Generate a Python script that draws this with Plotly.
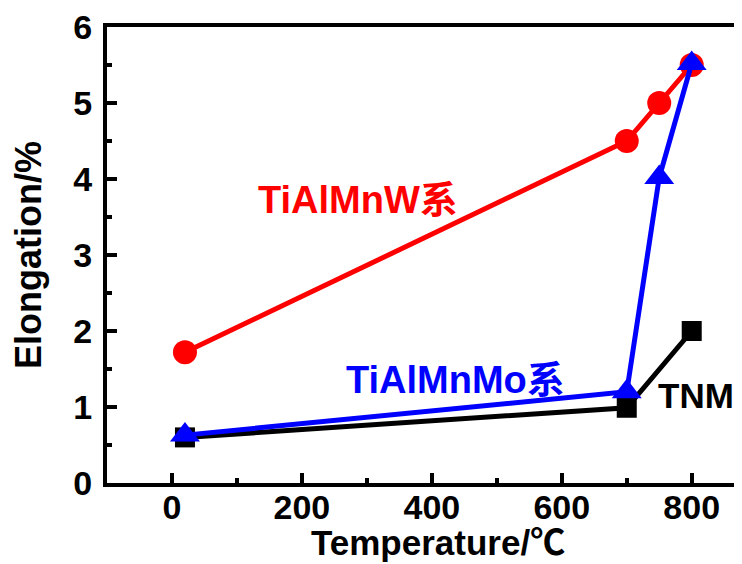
import plotly.graph_objects as go

temp_w = [20, 700, 750, 800]
elong_w = [1.72, 4.5, 5.0, 5.5]
temp_mo = [20, 700, 750, 800]
elong_mo = [0.63, 1.2, 4.02, 5.52]
temp_tnm = [20, 700, 800]
elong_tnm = [0.6, 0.99, 2.0]

FONT = "Liberation Sans, Arial, Noto Sans CJK SC"

fig = go.Figure()
fig.add_trace(go.Scatter(x=temp_tnm, y=elong_tnm, mode="lines+markers",
                         line=dict(color="black", width=5),
                         marker=dict(symbol="square", size=20, color="black"), name="TNM"))
fig.add_trace(go.Scatter(x=temp_w, y=elong_w, mode="lines+markers",
                         line=dict(color="#ff0000", width=5),
                         marker=dict(symbol="circle", size=24, color="#ff0000"), name="TiAlMnW"))
fig.add_trace(go.Scatter(x=temp_mo, y=elong_mo, mode="lines+markers",
                         line=dict(color="#0000ff", width=5),
                         marker=dict(symbol="triangle-up", size=26, color="#0000ff"), name="TiAlMnMo"))

fig.add_annotation(x=287, y=3.73, text="<b>TiAlMnW系</b>", showarrow=False,
                   font=dict(family=FONT, size=38, color="#ff0000"))
fig.add_annotation(x=437, y=1.35, text="<b>TiAlMnMo系</b>", showarrow=False,
                   font=dict(family=FONT, size=38, color="#0000ff"))
fig.add_annotation(x=807, y=1.15, text="<b>TNM</b>", showarrow=False,
                   font=dict(family=FONT, size=35, color="black"))
# x-axis title
fig.add_annotation(x=410, xref="x", y=-0.13, yref="paper", yanchor="middle",
                   text="<b>Temperature/℃</b>", showarrow=False,
                   font=dict(family=FONT, size=35, color="black"))

fig.update_layout(
    width=742, height=564,
    margin=dict(l=99, r=8, t=19, b=89),
    plot_bgcolor="white", paper_bgcolor="white",
    showlegend=False,
    font=dict(family=FONT, color="black"),
)
fig.update_xaxes(range=[-100, 877.4], tickvals=[0, 200, 400, 600, 800],
                 ticks="inside", ticklen=10, tickwidth=4, tickcolor="black",
                 minor=dict(tickvals=[100, 300, 500, 700], ticks="inside", ticklen=5, tickwidth=4, tickcolor="black"),
                 showline=True, linewidth=4, linecolor="black", mirror=True,
                 showgrid=False, zeroline=False, automargin=False,
                 ticklabelstandoff=-9, ticklabeloverflow="allow",
                 tickfont=dict(size=34, family=FONT, weight="bold"))
fig.update_yaxes(range=[0, 6], tickvals=[0, 1, 2, 3, 4, 5, 6],
                 ticks="inside", ticklen=10, tickwidth=4, tickcolor="black",
                 minor=dict(tickvals=[0.5, 1.5, 2.5, 3.5, 4.5, 5.5], ticks="inside", ticklen=5, tickwidth=4, tickcolor="black"),
                 showline=True, linewidth=4, linecolor="black",
                 showgrid=False, zeroline=False, automargin=False,
                 ticklabelstandoff=4, ticklabeloverflow="allow",
                 tickfont=dict(size=34, family=FONT, weight="bold"),
                 title=dict(text="<b>Elongation/%</b>", font=dict(size=36, family=FONT), standoff=22))

fig.write_html("out.html")
